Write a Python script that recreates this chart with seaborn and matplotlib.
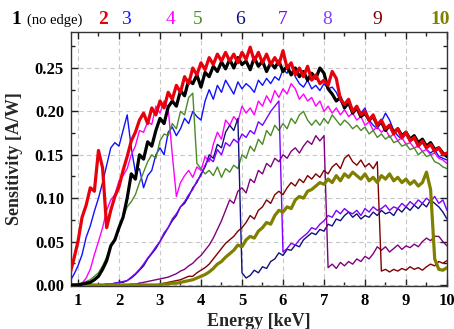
import numpy as np
import pandas as pd
import matplotlib
matplotlib.use("Agg")
import matplotlib.pyplot as plt
import seaborn as sns
from matplotlib.ticker import MultipleLocator

# Energy grid [keV], 0.8 .. 10.0 in 0.1 steps (93 points)
energy = [round(0.8 + 0.1 * i, 1) for i in range(93)]

s1 = [0.000, 0.000, 0.000, 0.001, 0.002, 0.003, 0.006, 0.010, 0.018, 0.028,
      0.045, 0.052, 0.066, 0.078, 0.100, 0.128, 0.122, 0.150, 0.145, 0.165,
      0.160, 0.178, 0.192, 0.186, 0.205, 0.212, 0.206, 0.224, 0.218, 0.236,
      0.232, 0.242, 0.228, 0.245, 0.240, 0.252, 0.246, 0.257, 0.249, 0.260,
      0.250, 0.262, 0.254, 0.258, 0.248, 0.262, 0.252, 0.258, 0.246, 0.256,
      0.250, 0.258, 0.246, 0.252, 0.242, 0.250, 0.240, 0.246, 0.236, 0.244,
      0.238, 0.250, 0.244, 0.226, 0.220, 0.212, 0.216, 0.204, 0.210, 0.198,
      0.204, 0.194, 0.198, 0.190, 0.194, 0.184, 0.188, 0.178, 0.184, 0.176,
      0.180, 0.172, 0.176, 0.168, 0.172, 0.164, 0.168, 0.160, 0.164, 0.156,
      0.158, 0.152, 0.148]
s2 = [0.012, 0.030, 0.050, 0.078, 0.092, 0.112, 0.108, 0.155, 0.135, 0.066,
      0.086, 0.102, 0.113, 0.132, 0.148, 0.166, 0.176, 0.190, 0.198, 0.186,
      0.204, 0.196, 0.212, 0.204, 0.222, 0.214, 0.230, 0.222, 0.240, 0.232,
      0.250, 0.242, 0.256, 0.248, 0.262, 0.254, 0.266, 0.258, 0.268, 0.258,
      0.266, 0.256, 0.268, 0.260, 0.274, 0.258, 0.268, 0.256, 0.266, 0.254,
      0.262, 0.254, 0.270, 0.250, 0.256, 0.242, 0.250, 0.240, 0.252, 0.236,
      0.242, 0.232, 0.236, 0.230, 0.246, 0.238, 0.214, 0.208, 0.214, 0.200,
      0.206, 0.196, 0.200, 0.190, 0.196, 0.184, 0.190, 0.180, 0.184, 0.174,
      0.180, 0.170, 0.176, 0.166, 0.170, 0.160, 0.166, 0.158, 0.162, 0.154,
      0.158, 0.150, 0.152]
s3 = [0.004, 0.012, 0.022, 0.035, 0.055, 0.068, 0.085, 0.100, 0.118, 0.138,
      0.158, 0.164, 0.160, 0.178, 0.196, 0.158, 0.130, 0.134, 0.112, 0.126,
      0.132, 0.150, 0.158, 0.150, 0.176, 0.182, 0.172, 0.180, 0.192, 0.186,
      0.200, 0.194, 0.190, 0.212, 0.225, 0.214, 0.230, 0.222, 0.236, 0.228,
      0.220, 0.234, 0.226, 0.232, 0.228, 0.222, 0.236, 0.230, 0.238, 0.232,
      0.240, 0.236, 0.248, 0.244, 0.256, 0.240, 0.232, 0.228, 0.236, 0.226,
      0.230, 0.224, 0.232, 0.226, 0.228, 0.222, 0.212, 0.205, 0.210, 0.200,
      0.206, 0.198, 0.204, 0.190, 0.184, 0.180, 0.188, 0.198, 0.190, 0.178,
      0.172, 0.168, 0.174, 0.166, 0.168, 0.160, 0.164, 0.156, 0.152, 0.156,
      0.148, 0.146, 0.144]
s4 = [0.000, 0.000, 0.001, 0.002, 0.008, 0.018, 0.035, 0.050, 0.066, 0.086,
      0.098, 0.104, 0.120, 0.126, 0.134, 0.150, 0.160, 0.178, 0.176, 0.188,
      0.185, 0.206, 0.198, 0.212, 0.204, 0.150, 0.102, 0.118, 0.126, 0.132,
      0.124, 0.136, 0.132, 0.148, 0.142, 0.162, 0.176, 0.168, 0.190, 0.184,
      0.194, 0.188, 0.206, 0.198, 0.204, 0.196, 0.212, 0.206, 0.218, 0.210,
      0.224, 0.216, 0.226, 0.220, 0.232, 0.226, 0.214, 0.220, 0.212, 0.216,
      0.206, 0.212, 0.200, 0.206, 0.198, 0.204, 0.196, 0.202, 0.194, 0.198,
      0.190, 0.194, 0.184, 0.188, 0.178, 0.182, 0.176, 0.180, 0.170, 0.174,
      0.166, 0.170, 0.162, 0.164, 0.158, 0.160, 0.154, 0.156, 0.150, 0.152,
      0.146, 0.144, 0.140]
s5 = [0.000, 0.000, 0.001, 0.002, 0.004, 0.006, 0.010, 0.014, 0.022, 0.032,
      0.044, 0.054, 0.064, 0.078, 0.090, 0.096, 0.104, 0.118, 0.130, 0.142,
      0.150, 0.146, 0.166, 0.174, 0.172, 0.186, 0.180, 0.200, 0.196, 0.216,
      0.221, 0.140, 0.134, 0.128, 0.132, 0.126, 0.136, 0.124, 0.134, 0.130,
      0.138, 0.134, 0.150, 0.146, 0.160, 0.154, 0.168, 0.162, 0.178, 0.172,
      0.184, 0.178, 0.186, 0.180, 0.192, 0.186, 0.196, 0.200, 0.190, 0.184,
      0.190, 0.184, 0.192, 0.186, 0.196, 0.190, 0.184, 0.190, 0.186, 0.180,
      0.184, 0.178, 0.182, 0.174, 0.178, 0.170, 0.174, 0.168, 0.172, 0.164,
      0.166, 0.160, 0.162, 0.156, 0.158, 0.150, 0.154, 0.148, 0.150, 0.142,
      0.140, 0.136, 0.134]
s6 = [0.000, 0.000, 0.000, 0.000, 0.000, 0.000, 0.000, 0.000, 0.000, 0.001,
      0.001, 0.002, 0.003, 0.003, 0.005, 0.008, 0.012, 0.017, 0.022, 0.030,
      0.036, 0.042, 0.050, 0.058, 0.066, 0.074, 0.080, 0.090, 0.094, 0.102,
      0.112, 0.118, 0.128, 0.136, 0.150, 0.146, 0.162, 0.158, 0.176, 0.184,
      0.178, 0.192, 0.014, 0.008, 0.011, 0.017, 0.014, 0.021, 0.019, 0.027,
      0.030, 0.037, 0.034, 0.041, 0.040, 0.046, 0.044, 0.052, 0.056, 0.060,
      0.058, 0.064, 0.062, 0.070, 0.068, 0.076, 0.074, 0.080, 0.084, 0.078,
      0.082, 0.076, 0.080, 0.078, 0.084, 0.080, 0.086, 0.082, 0.084, 0.080,
      0.088, 0.084, 0.090, 0.086, 0.092, 0.088, 0.094, 0.090, 0.098, 0.094,
      0.090, 0.084, 0.076]
s7 = [0.000, 0.000, 0.000, 0.000, 0.000, 0.000, 0.000, 0.000, 0.000, 0.001,
      0.001, 0.002, 0.003, 0.004, 0.005, 0.009, 0.013, 0.018, 0.024, 0.031,
      0.037, 0.044, 0.050, 0.060, 0.066, 0.076, 0.082, 0.090, 0.096, 0.104,
      0.110, 0.120, 0.126, 0.138, 0.146, 0.142, 0.156, 0.150, 0.164, 0.160,
      0.168, 0.164, 0.174, 0.170, 0.178, 0.174, 0.188, 0.184, 0.192, 0.200,
      0.206, 0.212, 0.038, 0.042, 0.048, 0.046, 0.052, 0.056, 0.060, 0.066,
      0.064, 0.070, 0.074, 0.080, 0.078, 0.086, 0.082, 0.088, 0.084, 0.082,
      0.086, 0.080, 0.088, 0.084, 0.090, 0.086, 0.088, 0.092, 0.086, 0.090,
      0.088, 0.094, 0.090, 0.096, 0.092, 0.098, 0.094, 0.100, 0.096, 0.102,
      0.094, 0.098, 0.086]
s8 = [0.000, 0.000, 0.000, 0.000, 0.000, 0.000, 0.000, 0.000, 0.000, 0.000,
      0.000, 0.000, 0.000, 0.000, 0.000, 0.001, 0.001, 0.002, 0.003, 0.004,
      0.005, 0.006, 0.007, 0.008, 0.009, 0.011, 0.013, 0.016, 0.018, 0.022,
      0.025, 0.030, 0.034, 0.040, 0.046, 0.054, 0.064, 0.074, 0.086, 0.098,
      0.094, 0.108, 0.112, 0.106, 0.122, 0.118, 0.132, 0.128, 0.140, 0.136,
      0.146, 0.142, 0.150, 0.146, 0.154, 0.158, 0.152, 0.160, 0.166, 0.162,
      0.172, 0.166, 0.172, 0.020, 0.024, 0.019, 0.026, 0.022, 0.027, 0.024,
      0.030, 0.027, 0.033, 0.030, 0.036, 0.044, 0.040, 0.044, 0.038, 0.042,
      0.046, 0.041, 0.045, 0.043, 0.047, 0.044, 0.050, 0.054, 0.051, 0.056,
      0.056, 0.050, 0.045]
s9 = [0.000, 0.000, 0.000, 0.000, 0.000, 0.000, 0.000, 0.000, 0.000, 0.000,
      0.000, 0.000, 0.000, 0.000, 0.000, 0.000, 0.000, 0.000, 0.000, 0.000,
      0.000, 0.000, 0.001, 0.002, 0.003, 0.004, 0.005, 0.006, 0.008, 0.010,
      0.010, 0.014, 0.017, 0.020, 0.024, 0.030, 0.036, 0.042, 0.048, 0.052,
      0.056, 0.062, 0.066, 0.072, 0.080, 0.076, 0.086, 0.090, 0.098, 0.094,
      0.104, 0.108, 0.104, 0.112, 0.118, 0.114, 0.122, 0.118, 0.126, 0.122,
      0.128, 0.124, 0.132, 0.128, 0.136, 0.140, 0.134, 0.146, 0.150, 0.142,
      0.138, 0.144, 0.136, 0.140, 0.134, 0.142, 0.016, 0.018, 0.015, 0.018,
      0.016, 0.019, 0.017, 0.021, 0.018, 0.020, 0.017, 0.021, 0.024, 0.022,
      0.027, 0.025, 0.028]
s10 = [0.000, 0.000, 0.000, 0.000, 0.000, 0.000, 0.000, 0.000, 0.000, 0.000,
       0.000, 0.000, 0.000, 0.000, 0.000, 0.000, 0.000, 0.000, 0.000, 0.000,
       0.000, 0.000, 0.000, 0.001, 0.001, 0.002, 0.002, 0.003, 0.004, 0.005,
       0.006, 0.008, 0.010, 0.012, 0.015, 0.019, 0.024, 0.027, 0.032, 0.036,
       0.040, 0.046, 0.044, 0.052, 0.056, 0.054, 0.062, 0.066, 0.072, 0.070,
       0.080, 0.086, 0.084, 0.090, 0.088, 0.098, 0.102, 0.100, 0.108, 0.110,
       0.114, 0.118, 0.116, 0.122, 0.118, 0.126, 0.120, 0.128, 0.124, 0.130,
       0.126, 0.122, 0.128, 0.120, 0.124, 0.118, 0.126, 0.122, 0.128, 0.120,
       0.124, 0.118, 0.122, 0.116, 0.120, 0.114, 0.118, 0.130, 0.110, 0.030,
       0.018, 0.017, 0.020]

series_names = ["1", "2", "3", "4", "5", "6", "7", "8", "9", "10"]
series_vals = [s1, s2, s3, s4, s5, s6, s7, s8, s9, s10]
line_colors = ["#000000", "#e8000b", "#1010ff", "#ff00ff", "#4a8a28",
               "#10107e", "#7f00ff", "#800080", "#7f0000", "#808000"]
label_colors = ["#000000", "#e8000b", "#1010ff", "#ff00ff", "#4a8a28",
                "#10107e", "#7f00ff", "#8a40ff", "#7f0000", "#808000"]
thick = {"1", "2", "10"}

sns.set_style("ticks")
plt.rcParams["font.family"] = ["Liberation Serif", "DejaVu Serif"]
plt.rcParams["font.weight"] = "bold"

fig = plt.figure(figsize=(4.54, 3.29), dpi=100)
ax = fig.add_axes([71 / 454, 1 - 286 / 329, 376 / 454, 254 / 329])

draw_order = ["3", "4", "5", "6", "7", "8", "9", "10", "1", "2"]
for name in draw_order:
    i = series_names.index(name)
    df = pd.DataFrame({"Energy": energy, "Sens": series_vals[i]})
    sns.lineplot(data=df, x="Energy", y="Sens", ax=ax, color=line_colors[i],
                 linewidth=2.3 if name in thick else 1.0, estimator=None,
                 zorder=3 if name in thick else 2)

ax.set_xlim(0.83, 10.0)
ax.set_ylim(-0.0012, 0.2915)
ax.xaxis.set_major_locator(MultipleLocator(1))
ax.xaxis.set_minor_locator(MultipleLocator(0.5))
ax.yaxis.set_major_locator(MultipleLocator(0.05))
ax.yaxis.set_minor_locator(MultipleLocator(0.025))
ax.set_yticks([0, 0.05, 0.10, 0.15, 0.20, 0.25])
ax.set_yticklabels(["0.00", "0.05", "0.10", "0.15", "0.20", "0.25"])
ax.tick_params(which="both", direction="in", top=True, right=True,
               labelsize=12, width=1.0, colors="#222222", labelcolor="black")
ax.tick_params(which="major", length=5, pad=5)
ax.tick_params(which="minor", length=3)
for lab in ax.get_xticklabels() + ax.get_yticklabels():
    lab.set_fontweight("bold")
ax.grid(True, which="major", linestyle=(0, (4, 3)), color="#c8c8c8", linewidth=0.8)
for sp in ax.spines.values():
    sp.set_linewidth(1.0)
    sp.set_color("#333333")

ax.set_xlabel("Energy [keV]", fontsize=13, fontweight="bold")
ax.set_ylabel("Sensitivity [A/W]", fontsize=13, fontweight="bold")
ax.xaxis.set_label_coords(0.5, -0.105)
ax.yaxis.set_label_coords(-0.128, 0.5)

# top labels
lab_x = [16, 103, 126, 170, 198, 240, 283, 327, 377, 440]
for i, name in enumerate(series_names):
    fig.text(lab_x[i] / 454, 1 - 20 / 329, name, color=label_colors[i],
             fontsize=14, fontweight="bold" if name in thick else "normal",
             ha="center", va="center")
fig.text(27 / 454, 1 - 20 / 329, "(no edge)", color="black", fontsize=10.5,
         fontweight="normal", ha="left", va="center")

fig.savefig("out.png", dpi=100)
